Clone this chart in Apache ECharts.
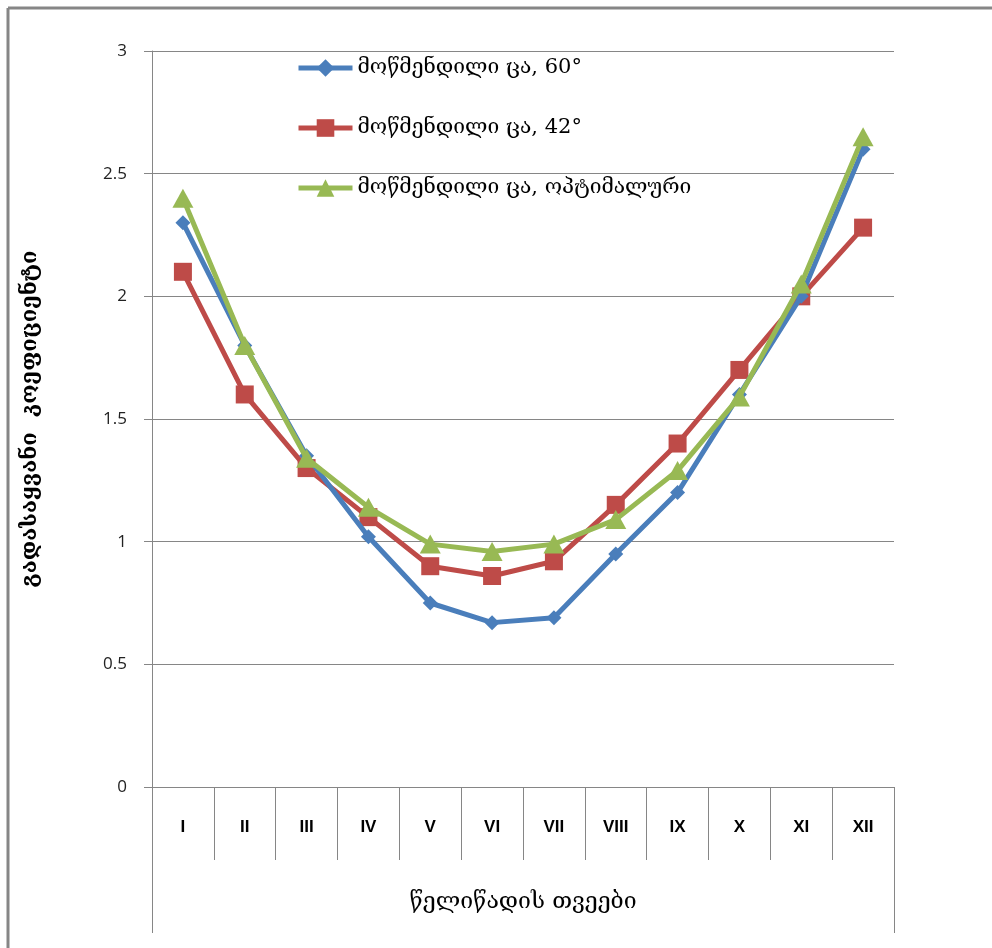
<!DOCTYPE html>
<html>
<head>
<meta charset="utf-8">
<script src="https://cdn.jsdelivr.net/npm/echarts@6/dist/echarts.min.js"></script>
<style>html,body{margin:0;padding:0;background:#fff;}#c{width:992px;height:948px;}</style>
</head>
<body>
<div id="c"></div>
<script>
var months = ['I','II','III','IV','V','VI','VII','VIII','IX','X','XI','XII'];
var seriesNames = ['მოწმენდილი ცა, 60°','მოწმენდილი ცა, 42°','მოწმენდილი ცა, ოპტიმალური'];
var clear60 = [2.30, 1.80, 1.35, 1.02, 0.75, 0.67, 0.69, 0.95, 1.20, 1.60, 2.00, 2.60];
var clear42 = [2.10, 1.60, 1.30, 1.10, 0.90, 0.86, 0.92, 1.15, 1.40, 1.70, 2.00, 2.28];
var clearOpt = [2.40, 1.80, 1.34, 1.14, 0.99, 0.96, 0.99, 1.09, 1.29, 1.59, 2.05, 2.65];
var yTicks = [0, 0.5, 1, 1.5, 2, 2.5, 3];
var yTitle = 'გადასაყვანი  კოეფიციენტი';
var xTitle = 'წელიწადის თვეები';

var gray = '#868686';
var geo = '"DejaVu Serif", "DejaVu Sans", serif';
var chart = echarts.init(document.getElementById('c'));
var GL = 152, GT = 51, GR = 894, GB = 787;
chart.setOption({
  animation: false,
  backgroundColor: '#fff',
  grid: {left: GL, top: GT, right: 992 - GR, bottom: 948 - GB, containLabel: false},
  legend: {
    orient: 'vertical', left: 291, top: 52,
    itemWidth: 54, itemHeight: 22, itemGap: 38,
    lineStyle: {width: 5},
    textStyle: {fontFamily: geo, fontSize: 21, color: '#000', lineHeight: 22},
    data: seriesNames
  },
  xAxis: {
    type: 'category', data: months, boundaryGap: true,
    axisLine: {lineStyle: {color: gray, width: 1}},
    axisTick: {show: true, interval: 0, length: 73, lineStyle: {color: gray}},
    axisLabel: {interval: 0, margin: 32, fontFamily: 'Liberation Sans', fontWeight: 'bold', fontSize: 17, color: '#000'},
    name: xTitle, nameLocation: 'middle', nameGap: 104,
    nameTextStyle: {fontFamily: geo, fontSize: 23, color: '#000'}
  },
  yAxis: {
    type: 'value', min: yTicks[0], max: yTicks[yTicks.length - 1], interval: 0.5,
    axisLine: {show: true, lineStyle: {color: gray, width: 1}},
    axisTick: {show: true, length: 8, lineStyle: {color: gray}},
    splitLine: {show: true, lineStyle: {color: gray, width: 1}},
    axisLabel: {margin: 25, fontFamily: '"Open Sans", "Liberation Sans", sans-serif', fontSize: 17, color: '#222',
      formatter: function (v) { return String(v); }},
    name: yTitle, nameLocation: 'middle', nameRotate: 90, nameGap: 111,
    nameTextStyle: {fontFamily: geo, fontSize: 22, fontWeight: 'bold', color: '#000'}
  },
  series: [
    {name: seriesNames[0], type: 'line', data: clear60, symbol: 'diamond', symbolSize: 15,
     itemStyle: {color: '#4A7EBB'}, lineStyle: {color: '#4A7EBB', width: 5}, z: 3},
    {name: seriesNames[1], type: 'line', data: clear42, symbol: 'rect', symbolSize: 18,
     itemStyle: {color: '#BE4B48'}, lineStyle: {color: '#BE4B48', width: 5}, z: 2},
    {name: seriesNames[2], type: 'line', data: clearOpt, symbol: 'triangle', symbolSize: [21, 19],
     itemStyle: {color: '#98B954'}, lineStyle: {color: '#98B954', width: 5}, z: 4}
  ],
  graphic: [
    {type: 'line', shape: {x1: 8, y1: 8, x2: 992, y2: 8}, style: {stroke: gray, lineWidth: 3}},
    {type: 'line', shape: {x1: 8, y1: 8, x2: 8, y2: 948}, style: {stroke: gray, lineWidth: 3}},
    {type: 'line', shape: {x1: GL + 0.5, y1: GB, x2: GL + 0.5, y2: 933}, style: {stroke: gray, lineWidth: 1}},
    {type: 'line', shape: {x1: GR + 0.5, y1: GB, x2: GR + 0.5, y2: 933}, style: {stroke: gray, lineWidth: 1}}
  ]
});
</script>
</body>
</html>
